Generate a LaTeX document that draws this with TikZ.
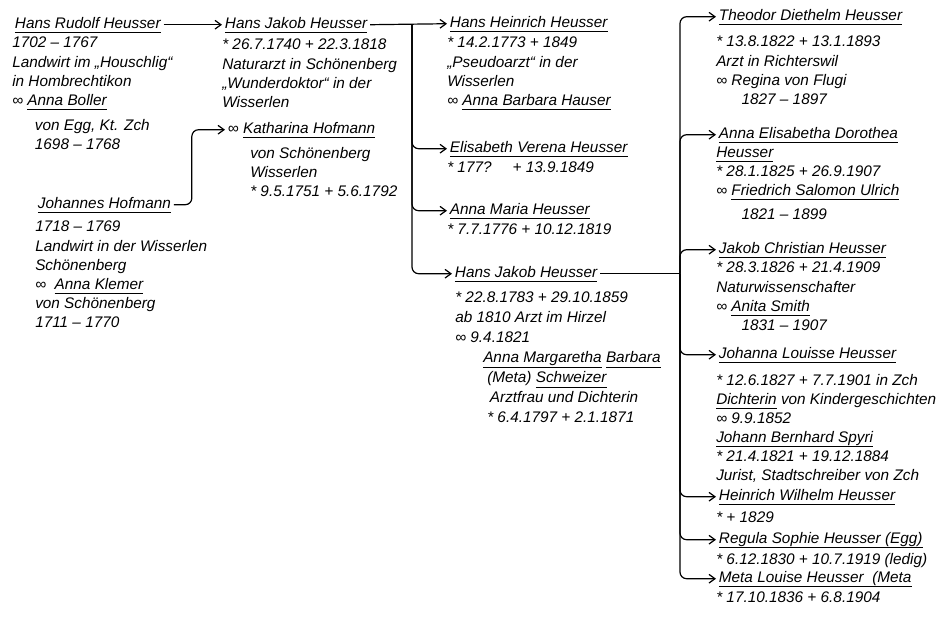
\documentclass[tikz,border=0pt]{standalone}
\usepackage{fontspec}
\setmainfont{Liberation Sans Italic}
\usetikzlibrary{arrows.meta}
\newcommand\ulnm[1]{\leavevmode\setbox0\hbox{#1}\rlap{\rule[-3.4pt]{\wd0}{0.75pt}}\box0\relax}

\begin{document}
\begin{tikzpicture}[x=0.75pt,y=0.75pt,yscale=-1,xscale=1,
  pname/.style={anchor=base west,inner sep=2pt,font=\fontsize{11.5}{14}\selectfont},
  info/.style={anchor=north west,inner sep=0pt,align=left,font=\fontsize{11.5}{14.3}\selectfont},
  arr/.style={-{Straight Barb[length=4.5pt,width=6.5pt]},line width=0.9pt,rounded corners=5pt}]
\useasboundingbox (0,0) rectangle (947,622);
% Text Node
\node[pname] (hrh) at (12,28) {\ulnm{Hans Rudolf Heusser}};
\node[info] (hrh-i) at (12,37) {1702 – 1767\\Landwirt im „Houschlig“\\in Hombrechtikon\\∞ \ulnm{Anna Boller}\\[5pt]\hspace*{17pt}von Egg, Kt. Zch\\\hspace*{17pt}1698 – 1768};
% Text Node
\node[pname] (jhm) at (35,208) {\ulnm{Johannes Hofmann}};
\node[info] (jhm-i) at (35,221) {1718 – 1769\\Landwirt in der Wisserlen\\Schönenberg\\∞ \ \ulnm{Anna Klemer}\\von Schönenberg\\1711 – 1770};
% Text Node
\node[pname] (hjh) at (222,28) {\ulnm{Hans Jakob Heusser}};
\node[info] (hjh-i) at (222,39) {* 26.7.1740 + 22.3.1818\\Naturarzt in Schönenberg\\„Wunderdoktor“ in der\\Wisserlen};
\node[pname] (khm) at (225,133) {∞ \ulnm{Katharina Hofmann}};
\node[info] (khm-i) at (250,147) {von Schönenberg\\Wisserlen\\* 9.5.1751 + 5.6.1792};
% Text Node
\node[pname] (hhh) at (447,27) {\ulnm{Hans Heinrich Heusser}};
\node[info] (hhh-i) at (447,37) {* 14.2.1773 + 1849\\„Pseudoarzt“ in der\\Wisserlen\\∞ \ulnm{Anna Barbara Hauser}};
\node[pname] (evh) at (447,152) {\ulnm{Elisabeth Verena Heusser}};
\node[info] (evh-i) at (447,162) {* 177? \quad + 13.9.1849};
\node[pname] (amh) at (447,214) {\ulnm{Anna Maria Heusser}};
\node[info] (amh-i) at (447,224) {* 7.7.1776 + 10.12.1819};
\node[pname] (hjh2) at (452,277) {\ulnm{Hans Jakob Heusser}};
\node[info,font=\fontsize{11.5}{15}\selectfont] (hjh2-i) at (455,292) {* 22.8.1783 + 29.10.1859\\ab 1810 Arzt im Hirzel\\∞ 9.4.1821\\\hspace*{21pt}\ulnm{Anna Margaretha} \ulnm{Barbara}\\\hspace*{24pt}(Meta) \ulnm{Schweizer}\\\hspace*{26pt}Arztfrau und Dichterin\\\hspace*{24pt}* 6.4.1797 + 2.1.1871};
% Text Node
\node[pname] (tdh) at (716,20) {\ulnm{Theodor Diethelm Heusser}};
\node[info] (tdh-i) at (716,36) {* 13.8.1822 + 13.1.1893\\Arzt in Richterswil\\∞ Regina von Flugi\\\hspace*{19pt}1827 – 1897};
\node[pname] (aed) at (716,138) {\ulnm{Anna Elisabetha Dorothea}};
\node[info] (aed-i) at (716,147) {\ulnm{Heusser}\\* 28.1.1825 + 26.9.1907\\∞ \ulnm{Friedrich Salomon Ulrich}\\[3pt]\hspace*{19pt}1821 – 1899};
\node[pname] (jch) at (716,253) {\ulnm{Jakob Christian Heusser}};
\node[info] (jch-i) at (716,262) {* 28.3.1826 + 21.4.1909\\Naturwissenschafter\\∞ \ulnm{Anita Smith}\\\hspace*{19pt}1831 – 1907};
\node[pname] (jlh) at (716,358) {\ulnm{Johanna Louisse Heusser}};
\node[info] (jlh-i) at (716,374) {* 12.6.1827 + 7.7.1901 in Zch\\\ulnm{Dichterin} von Kindergeschichten\\∞ 9.9.1852\\\ulnm{Johann Bernhard Spyri}\\* 21.4.1821 + 19.12.1884\\Jurist, Stadtschreiber von Zch};
\node[pname] (hwh) at (716,500) {\ulnm{Heinrich Wilhelm Heusser}};
\node[info] (hwh-i) at (716,512) {* + 1829};
\node[pname] (rsh) at (716,543) {\ulnm{Regula Sophie Heusser (Egg)}};
\node[info] (rsh-i) at (716,553) {* 6.12.1830 + 10.7.1919 (ledig)};
\node[pname] (mlh) at (716,582) {\ulnm{Meta Louise Heusser \ (Meta}};
\node[info] (mlh-i) at (716,592) {* 17.10.1836 + 6.8.1904};
%Connectors
\draw[arr] (hrh.east) -- (hjh.west);
\draw[arr] (jhm.east) -- ++(18,0) |- (khm.west);
\coordinate (hjh-j) at (412,0 |- hjh.east);
\draw[arr] (hjh.east) -- (hhh.west);
\foreach \c in {evh,amh,hjh2} \draw[arr] (hjh-j) |- (\c.west);
\coordinate (hjh2-j) at (680,0 |- hjh2.east);
\draw[line width=0.9pt] (hjh2.east) -- (hjh2-j);
\foreach \c in {tdh,aed,jch,jlh,hwh,rsh,mlh} \draw[arr] (hjh2-j) |- (\c.west);
\end{tikzpicture}
\end{document}
